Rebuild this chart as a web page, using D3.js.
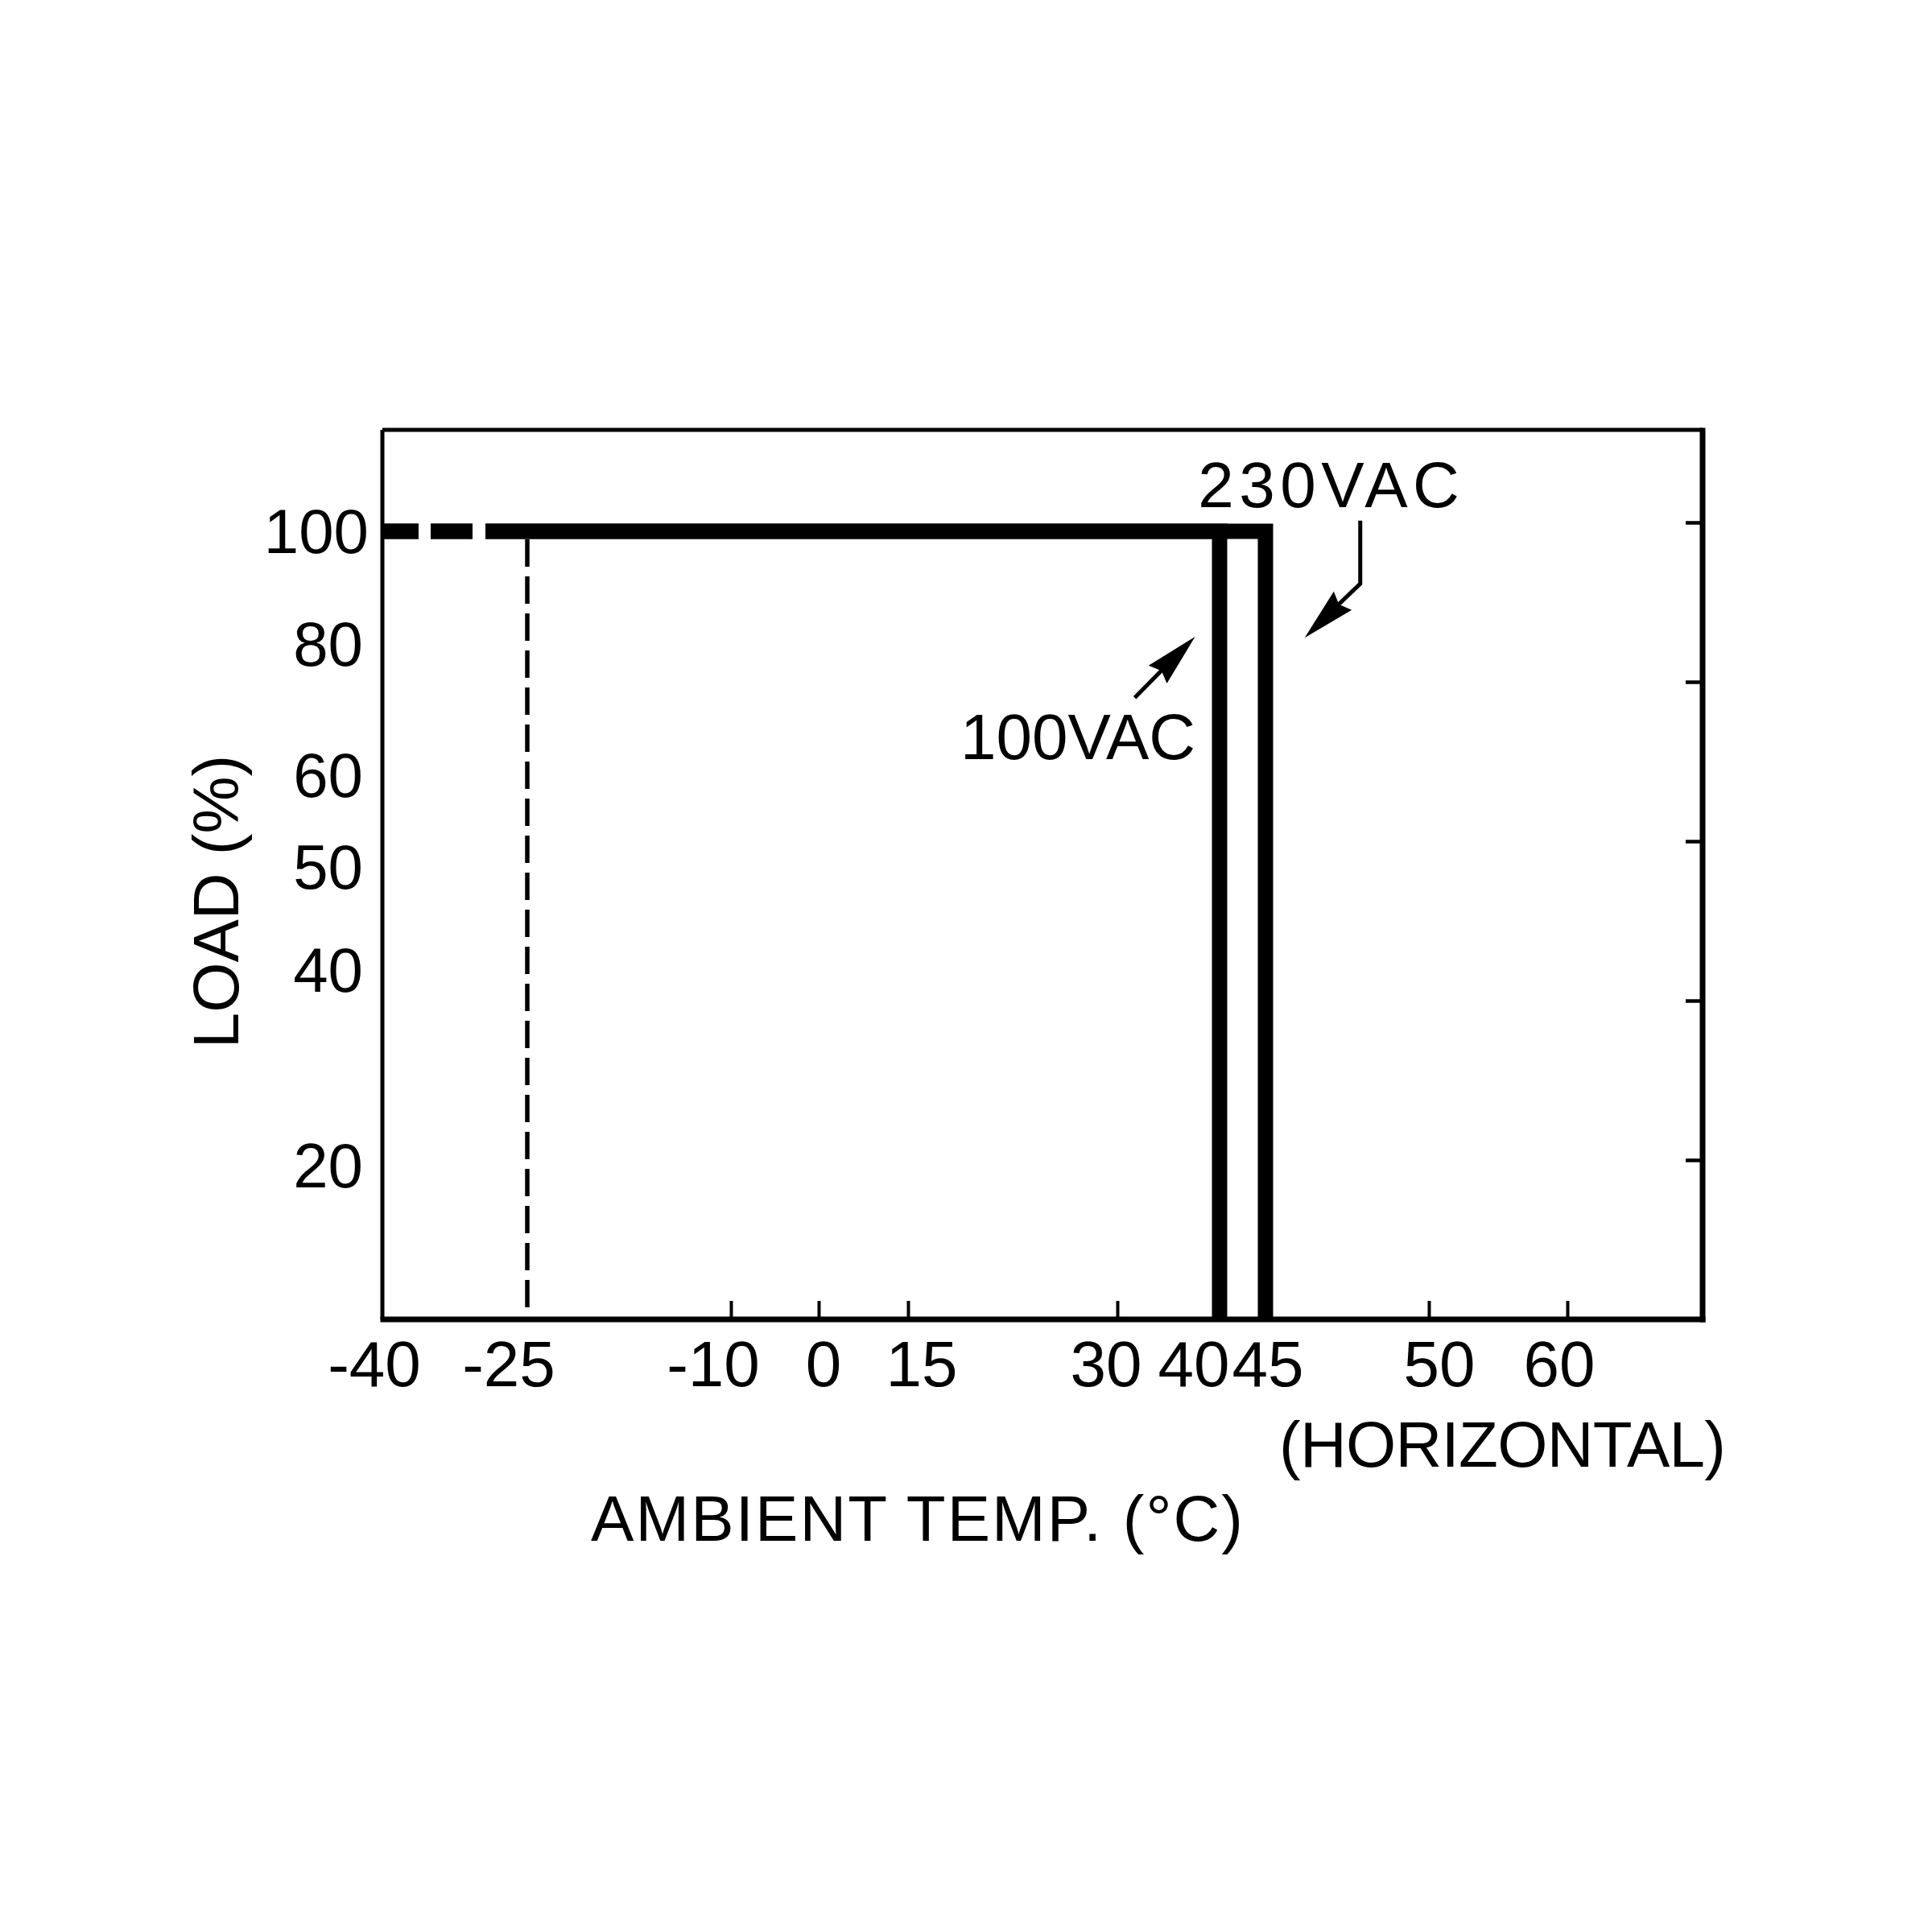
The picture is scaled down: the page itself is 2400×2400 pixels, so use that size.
<!DOCTYPE html>
<html><head><meta charset="utf-8">
<script src="https://cdn.jsdelivr.net/npm/d3@7"></script>
<style>
body{margin:0;background:#fff}
text{font-family:"Liberation Sans",Arial,Helvetica,sans-serif;fill:#000}
</style>
</head><body>
<svg id="c" width="2400" height="2400" xmlns="http://www.w3.org/2000/svg"></svg>
<script>
// ---------- data ----------
const xLabelValues = [-40, -25, -10, 0, 15, 30, 40, 45, 50, 60];
const xLabelTexts  = ["-40", "-25", "-10", "0", "15", "30", "40", "45", "50", "60"];
const xTickValues  = [-10, 0, 15, 30, 50, 60];
const yLabelValues = [100, 80, 60, 50, 40, 20];
const yLabelTexts  = ["100", "80", "60", "50", "40", "20"];
const yRightTickValues = [20, 40, 60, 80, 100];
const derating100VAC = [[-40, 100], [40, 100], [40, 0]];
const derating230VAC = [[-40, 100], [45, 100], [45, 0]];
const coldStartLimit = [[-25, 100], [-25, 0]];
const label230 = "230VAC";
const label100 = "100VAC";
const xTitle = "AMBIENT TEMP. (\u00B0C)";
const xNote = "(HORIZONTAL)";
const yTitle = "LOAD (%)";

// ---------- layout ----------
const svg = d3.select("#c");
svg.append("rect").attr("width", 2400).attr("height", 2400).attr("fill", "#fff");

// the original chart uses a non-uniform (piecewise) temperature axis
const x = d3.scaleLinear()
  .domain([-40, -25, -10, 0, 15, 30, 40, 45, 50, 60, 70])
  .range([475, 655, 908, 1017, 1128, 1388, 1515, 1572, 1775, 1947, 2115]);
// non-uniform load axis (left labels)
const y = d3.scaleLinear()
  .domain([0, 20, 40, 50, 60, 80, 100, 120])
  .range([1639, 1448, 1205, 1077, 963, 800, 660, 534]);
// uniform load axis (right ticks)
const yLin = d3.scaleLinear().domain([0, 100]).range([1639, 649]);

const L = x(-40), R = x(70), T = y(120), B = y(0);
const FS = 80;

// frame
const frame = svg.append("g").attr("stroke", "#000").attr("fill", "none");
frame.append("line").attr("x1", L).attr("x2", R).attr("y1", T).attr("y2", T).attr("stroke-width", 5);
frame.append("line").attr("x1", L).attr("x2", L).attr("y1", T).attr("y2", B).attr("stroke-width", 5);
frame.append("line").attr("x1", R).attr("x2", R).attr("y1", T - 2.5).attr("y2", B + 3.5).attr("stroke-width", 7);
frame.append("line").attr("x1", L - 2.5).attr("x2", R + 3.5).attr("y1", B).attr("y2", B).attr("stroke-width", 7);

// bottom inward ticks
const bottomAxis = svg.append("g").attr("transform", `translate(0,${B})`)
  .call(d3.axisTop(x).tickValues(xTickValues).tickSize(23).tickFormat(""));
bottomAxis.select(".domain").remove();
bottomAxis.selectAll(".tick line").attr("stroke", "#000").attr("stroke-width", 4);

// right inward ticks
const rightAxis = svg.append("g").attr("transform", `translate(${R},0)`)
  .call(d3.axisLeft(yLin).tickValues(yRightTickValues).tickSize(21).tickFormat(""));
rightAxis.select(".domain").remove();
rightAxis.selectAll(".tick line").attr("stroke", "#000").attr("stroke-width", 4.5);

// left labels
svg.append("g").selectAll("text").data(yLabelValues).join("text")
  .attr("x", (d, i) => i === 0 ? 458 : 451).attr("y", d => y(d) + 27)
  .attr("text-anchor", "end").attr("font-size", 78)
  .text((d, i) => yLabelTexts[i]);

// bottom labels (nudged as in the original drawing)
const labelNudge = {"-40": -10, "-25": -23, "-10": -22, "0": 6, "15": 17, "30": -14, "40": -32, "45": 3, "50": 13, "60": -10};
svg.append("g").selectAll("text").data(xLabelValues).join("text")
  .attr("x", (d, i) => x(d) + (labelNudge[xLabelTexts[i]] || 0))
  .attr("y", 1722)
  .attr("text-anchor", "middle").attr("font-size", FS)
  .text((d, i) => xLabelTexts[i]);

// cold-start dashed vertical
svg.append("line")
  .attr("x1", x(coldStartLimit[0][0])).attr("x2", x(coldStartLimit[1][0]))
  .attr("y1", y(coldStartLimit[0][1]) + 10).attr("y2", y(coldStartLimit[1][1]))
  .attr("stroke", "#000").attr("stroke-width", 5.5).attr("stroke-dasharray", "34 12");

// derating curves
const line = d3.line().x(d => x(d[0])).y(d => y(d[1]));
[derating230VAC, derating100VAC].forEach(s => {
  svg.append("path").attr("d", line(s))
    .attr("fill", "none").attr("stroke", "#000").attr("stroke-width", 19)
    .attr("stroke-linejoin", "miter").attr("stroke-linecap", "butt")
    .attr("stroke-dasharray", "45 15 52 16 6000");
});

// annotations
function arrowHead(tip, from, len, wid) {
  const dx = tip[0] - from[0], dy = tip[1] - from[1];
  const d = Math.hypot(dx, dy), ux = dx / d, uy = dy / d;
  const bx = tip[0] - ux * len, by = tip[1] - uy * len;
  const px = -uy * wid / 2, py = ux * wid / 2;
  const nx = tip[0] - ux * len * 0.9, ny = tip[1] - uy * len * 0.9;
  return `M${tip[0]},${tip[1]}L${bx + px},${by + py}L${nx},${ny}L${bx - px},${by - py}Z`;
}
// 230VAC
const a230 = [[x(47.9), y(102.1)], [x(47.9), y(90.7)], [x(46.2), y(81.1)]];
svg.append("path").attr("d", d3.line()(a230.slice(0, 2).concat([[a230[2][0] + 25, a230[2][1] - 25]])))
  .attr("fill", "none").attr("stroke", "#000").attr("stroke-width", 5);
svg.append("path").attr("d", arrowHead(a230[2], a230[1], 66, 32)).attr("fill", "#000");
svg.append("text").attr("x", x(37.9)).attr("y", y(104.8))
  .attr("font-size", FS).attr("letter-spacing", 6.5).text(label230);
// 100VAC
const a100 = [[x(31.7), y(71.8)], [x(37.6), y(81.3)]];
svg.append("path").attr("d", d3.line()([a100[0], [a100[1][0] - 25, a100[1][1] + 25]]))
  .attr("fill", "none").attr("stroke", "#000").attr("stroke-width", 5);
svg.append("path").attr("d", arrowHead(a100[1], a100[0], 66, 32)).attr("fill", "#000");
svg.append("text").attr("x", x(18.75)).attr("y", y(62.5))
  .attr("font-size", FS).text(label100);

// titles
svg.append("text").attr("x", 1589).attr("y", 1822).attr("font-size", FS)
  .attr("textLength", 555).text(xNote);
svg.append("text").attr("x", 734).attr("y", 1914).attr("font-size", FS)
  .attr("textLength", 810).text(xTitle);
svg.append("text").attr("transform", "translate(296,1120) rotate(-90)")
  .attr("text-anchor", "middle").attr("font-size", FS).text(yTitle);
</script>
</body></html>
